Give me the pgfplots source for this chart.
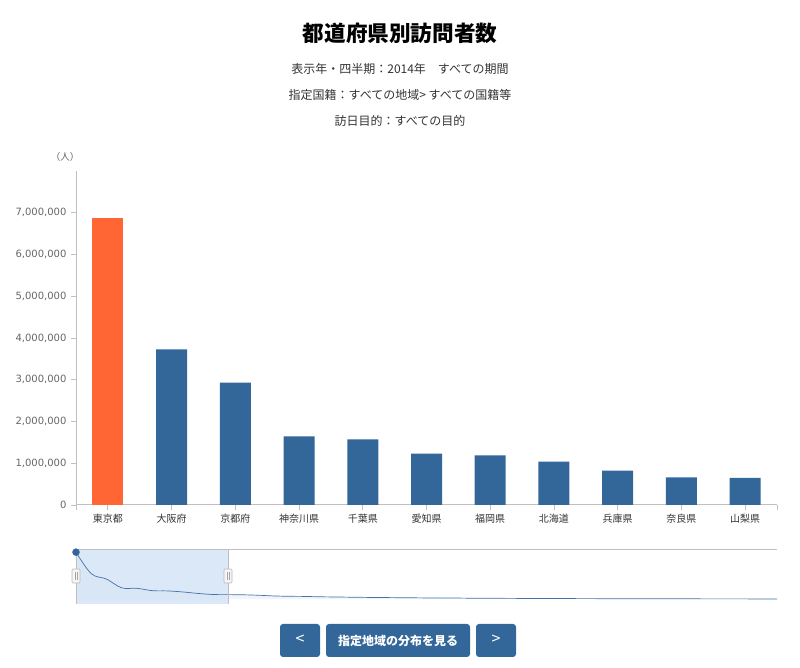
\documentclass[border=0pt]{standalone}
\usepackage{pgfplots}
\pgfplotsset{compat=1.18}
\usepackage{fontspec}
\setmainfont{Noto Sans CJK JP}
\newfontfamily\numfont{DejaVu Sans}
\definecolor{barblue}{HTML}{336699}
\definecolor{barorange}{HTML}{FF6633}
\definecolor{axisgray}{HTML}{C0C0C0}
\definecolor{labgray}{HTML}{666666}
\definecolor{txtdark}{HTML}{333333}
\definecolor{navsel}{HTML}{D6E5F6}
\definecolor{navline}{HTML}{4572A7}
\definecolor{navfill}{HTML}{F1F5FB}
\begin{document}
\begin{tikzpicture}[x=1pt,y=1pt]
\path[use as bounding box] (0,0) rectangle (800,668);
% titles
\node[font=\bfseries\fontsize{21.6}{24}\selectfont, text=black] at (400,635) {都道府県別訪問者数};
\node[font=\fontsize{12}{14}\selectfont, text=txtdark] at (400,599) {表示年・四半期：2014年　すべての期間};
\node[font=\fontsize{12}{14}\selectfont, text=txtdark] at (400,573) {指定国籍：すべての地域> すべての国籍等};
\node[font=\fontsize{12}{14}\selectfont, text=txtdark] at (400,547) {訪日目的：すべての目的};
\node[font=\fontsize{9.5}{11}\selectfont, text=labgray] at (65,511) {（人）};
% main chart
\begin{axis}[
  at={(76pt,163pt)}, anchor=south west,
  scale only axis, width=701pt, height=334pt,
  xmin=-0.5, xmax=10.5, ymin=0, ymax=8000000,
  axis x line*=bottom, axis y line*=left,
  x axis line style={-, draw=axisgray, line width=1pt},
  y axis line style={-, draw=axisgray, line width=1pt},
  ybar, bar width=31pt,
  ytick={0,1000000,2000000,3000000,4000000,5000000,6000000,7000000},
  scaled y ticks=false,
  /pgf/number format/.cd, fixed, 1000 sep={,}, assume math mode=true, /pgfplots/.cd,
  yticklabel style={font=\numfont\fontsize{10}{12}\selectfont, text=labgray, xshift=-1pt},
  xtick={0,1,2,3,4,5,6,7,8,9,10},
  xticklabels={東京都,大阪府,京都府,神奈川県,千葉県,愛知県,福岡県,北海道,兵庫県,奈良県,山梨県},
  extra x ticks={-0.5,10.5}, extra x tick labels={},
  extra x tick style={tick style={draw=axisgray, line width=0.8pt}},
  xticklabel style={font=\fontsize{10}{12}\selectfont, text=txtdark, yshift=-0.5pt},
  tick align=outside, major tick length=5pt,
  tick style={draw=axisgray, line width=0.8pt},
  xtick pos=bottom, ytick pos=left,
]
\addplot[fill=barorange, draw=none, bar shift=0pt] coordinates {(0,6880000)};
\addplot[fill=barblue, draw=none, bar shift=0pt] coordinates {
(1,3728000) (2,2929000) (3,1645000) (4,1573000) (5,1228000)
(6,1190000) (7,1037000) (8,821000) (9,663000) (10,647000)};
\end{axis}
% navigator
\begin{axis}[
  at={(76pt,64pt)}, anchor=south west,
  scale only axis, width=701pt, height=55pt,
  xmin=0, xmax=46, ymin=-730000, ymax=7340000,
  hide axis, clip=false,
]
\addplot[fill=navfill, draw=none, smooth, tension=0.6] coordinates {
(0,6880000) (1,3728000) (2,2929000) (3,1645000) (4,1573000) (5,1228000)
(6,1190000) (7,1037000) (8,821000) (9,663000) (10,647000)
(11,620000) (12,550000) (13,450000) (14,400000) (15,380000) (16,330000)
(17,300000) (18,270000) (19,240000) (20,220000) (21,200000) (22,180000)
(23,160000) (24,150000) (25,140000) (26,120000) (27,110000) (28,100000)
(29,90000) (30,80000) (31,75000) (32,70000) (33,60000) (34,55000)
(35,50000) (36,45000) (37,40000) (38,35000) (39,30000) (40,28000)
(41,25000) (42,22000) (43,20000) (44,18000) (45,15000) (46,12000)
} \closedcycle;
\fill[navsel, opacity=0.9] (axis cs:0,-730000) rectangle (axis cs:9.98,7340000);
\addplot[draw=navline, line width=0.7pt, smooth, tension=0.6] coordinates {
(0,6880000) (1,3728000) (2,2929000) (3,1645000) (4,1573000) (5,1228000)
(6,1190000) (7,1037000) (8,821000) (9,663000) (10,647000)
(11,620000) (12,550000) (13,450000) (14,400000) (15,380000) (16,330000)
(17,300000) (18,270000) (19,240000) (20,220000) (21,200000) (22,180000)
(23,160000) (24,150000) (25,140000) (26,120000) (27,110000) (28,100000)
(29,90000) (30,80000) (31,75000) (32,70000) (33,60000) (34,55000)
(35,50000) (36,45000) (37,40000) (38,35000) (39,30000) (40,28000)
(41,25000) (42,22000) (43,20000) (44,18000) (45,15000) (46,12000)
};
\addplot[only marks, mark=*, mark size=3.5pt, mark options={fill=barblue, draw=barblue}] coordinates {(0,6880000)};
\draw[axisgray, line width=1pt] (axis cs:0,7340000) -- (axis cs:46,7340000);
\draw[axisgray, line width=1pt] (axis cs:0,7340000) -- (axis cs:0,-730000);
\draw[axisgray, line width=1pt] (axis cs:9.98,7340000) -- (axis cs:9.98,-730000);
\end{axis}
% navigator handles
\foreach \hx in {76,228} {
  \draw[fill=gray!8, draw=gray!55, line width=0.6pt, rounded corners=1pt] (\hx-4,85) rectangle (\hx+4,99);
  \draw[gray!70, line width=0.5pt] (\hx-1,88) -- (\hx-1,96) (\hx+1,88) -- (\hx+1,96);
}
% buttons
\fill[barblue, rounded corners=3pt] (280,11) rectangle (320,44);
\fill[barblue, rounded corners=3pt] (326,11) rectangle (470,44);
\fill[barblue, rounded corners=3pt] (476,11) rectangle (516,44);
\node[text=white, font=\fontsize{16}{18}\selectfont] at (300,28.5) {<};
\node[text=white, font=\bfseries\fontsize{12}{14}\selectfont] at (398,27.5) {指定地域の分布を見る};
\node[text=white, font=\fontsize{16}{18}\selectfont] at (496,28.5) {>};
\end{tikzpicture}
\end{document}
